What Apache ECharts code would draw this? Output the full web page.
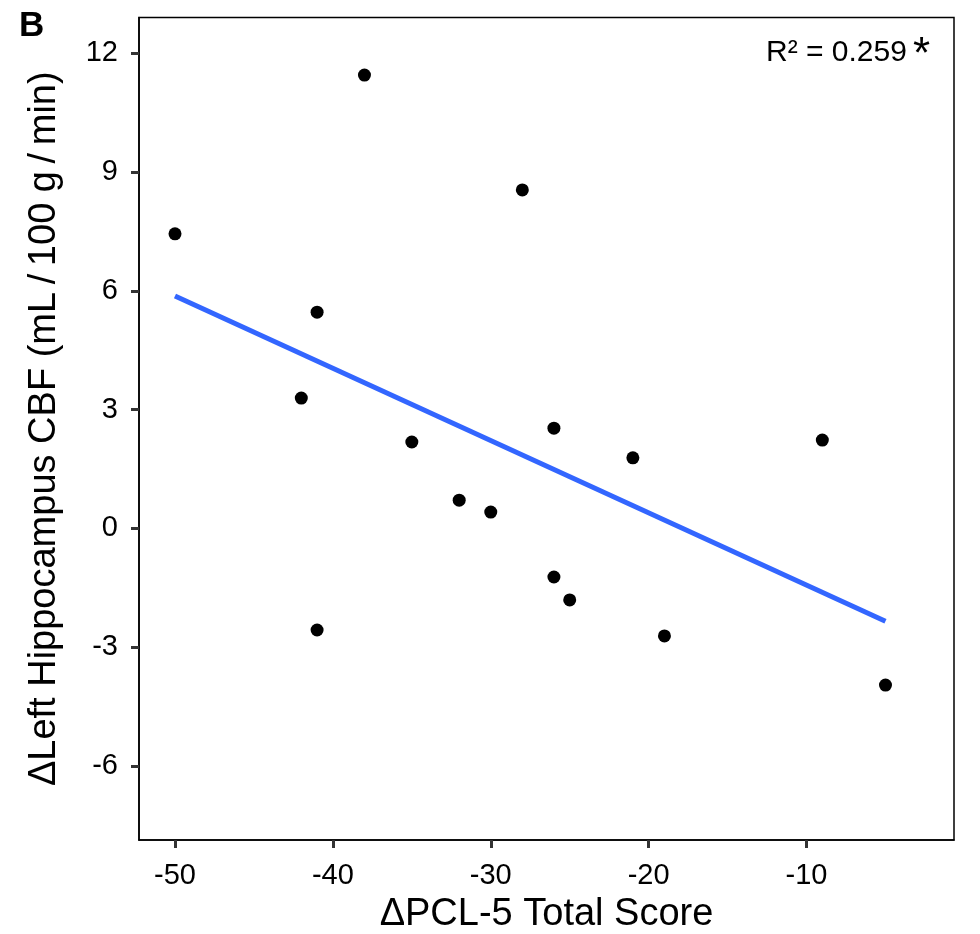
<!DOCTYPE html>
<html><head><meta charset="utf-8">
<script src="https://cdn.jsdelivr.net/npm/echarts@6/dist/echarts.min.js"></script>
<style>html,body{margin:0;padding:0;background:#fff}#c{width:980px;height:934px}</style>
</head><body><div id="c"></div>
<script>
const pclChange = [-50,-41,-38,-42,-35,-28,-32,-30,-26,-21,-9,-26,-25,-41,-19,-5];
const cbfChange = [7.44,5.46,11.45,3.29,2.18,8.55,0.71,0.41,2.53,1.78,2.23,-1.23,-1.81,-2.57,-2.72,-3.96];
const fitX = [-50,-5];
const fitY = [5.87,-2.35];
const xTicks = [-50,-40,-30,-20,-10];
const yTicks = [-6,-3,0,3,6,9,12];
const font = 'Liberation Sans, Arial, sans-serif';

const chart = echarts.init(document.getElementById('c'));
chart.setOption({
  animation:false,
  backgroundColor:'#fff',
  grid:{left:139,top:17.5,right:26,bottom:94,show:true,borderColor:'#000',borderWidth:1.5,backgroundColor:'transparent',
        outerBoundsMode:'none',containLabel:false},
  xAxis:{type:'value',min:-52.28,max:-0.66,interval:10,
    name:'\u0394PCL-5 Total Score',nameLocation:'middle',nameGap:56,
    nameTextStyle:{fontFamily:font,fontSize:38,color:'#000'},
    axisLine:{show:true,onZero:false,lineStyle:{color:'#000',width:1.5}},
    axisTick:{show:true,length:8,lineStyle:{color:'#333',width:3},customValues:xTicks},
    axisLabel:{fontFamily:font,fontSize:29,color:'#000',margin:21,customValues:xTicks},
    splitLine:{show:false}},
  yAxis:{type:'value',min:-7.875,max:12.905,
    name:'\u0394Left Hippocampus CBF (mL\u2009/\u2009100 g\u2009/\u2009min)',nameLocation:'middle',nameGap:75,
    nameTextStyle:{fontFamily:font,fontSize:38,color:'#000'},
    axisLine:{show:true,onZero:false,lineStyle:{color:'#000',width:1.5}},
    axisTick:{show:true,length:8,lineStyle:{color:'#333',width:3},customValues:yTicks},
    axisLabel:{fontFamily:font,fontSize:29,color:'#000',margin:21,customValues:yTicks},
    splitLine:{show:false}},
  series:[
    {type:'line',data:fitX.map((x,i)=>[x,fitY[i]]),showSymbol:false,symbol:'none',
     lineStyle:{color:'#3366FF',width:5},z:2},
    {type:'scatter',data:pclChange.map((x,i)=>[x,cbfChange[i]]),symbolSize:13,
     itemStyle:{color:'#000',opacity:1},z:3}
  ],
  graphic:[
    {type:'text',left:19,top:9,style:{text:'B',font:'bold 35px '+font,fill:'#000'}},
    {type:'text',left:766,top:38,style:{text:'R\u00b2 = 0.259',font:'30px '+font,fill:'#000'}},
    {type:'text',left:913,top:34,style:{text:'*',font:'44px '+font,fill:'#000'}}
  ]
});
</script></body></html>
